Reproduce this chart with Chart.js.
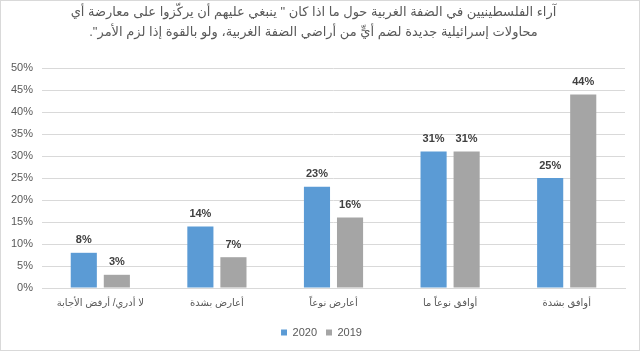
<!DOCTYPE html>
<html>
<head>
<meta charset="utf-8">
<script src="https://cdn.jsdelivr.net/npm/chart.js@4/dist/chart.umd.min.js"></script>
<style>
html,body{margin:0;padding:0;background:#fff;}
#wrap{position:relative;width:638px;height:349px;border:1px solid #d9d9d9;}
canvas{direction:rtl;}
</style>
</head>
<body>
<div id="wrap"><canvas id="c"></canvas></div>
<script>
const titleLines = [
  'آراء الفلسطينيين في الضفة الغربية حول ما اذا كان " ينبغي عليهم أن يركّزوا على معارضة أي',
  'محاولات إسرائيلية جديدة لضم أيٍّ من أراضي الضفة الغربية، ولو بالقوة إذا لزم الأمر".'
];
const categories = ['لا أدري/ أرفض الأجابة', 'أعارض بشدة', 'أعارض نوعاً', 'أوافق نوعاً ما', 'أوافق بشدة'];
const seriesNames = ['2020', '2019'];
const values2020 = [8, 14, 23, 31, 25];
const values2019 = [3, 7, 16, 31, 44];
const yTicks = [0, 5, 10, 15, 20, 25, 30, 35, 40, 45, 50];

const font = "'Liberation Sans', Arial, 'DejaVu Sans', sans-serif";

const labelPlugin = {
  id: 'barLabels',
  afterLayout(chart) {
    if (chart.legend) chart.legend.left += 16;
  },
  afterDatasetsDraw(chart) {
    const ctx = chart.ctx;
    ctx.save();
    ctx.font = 'bold 11px ' + font;
    ctx.fillStyle = '#404040';
    ctx.textAlign = 'center';
    ctx.textBaseline = 'bottom';
    ctx.direction = 'ltr';
    chart.data.datasets.forEach((ds, i) => {
      const meta = chart.getDatasetMeta(i);
      meta.data.forEach((bar, j) => {
        ctx.fillText(ds.data[j] + '%', bar.x, bar.y - 7);
      });
    });
    ctx.restore();
  }
};

new Chart(document.getElementById('c'), {
  type: 'bar',
  data: {
    labels: categories,
    datasets: [
      { label: seriesNames[0], data: values2020, backgroundColor: '#5b9bd5' },
      { label: seriesNames[1], data: values2019, backgroundColor: '#a5a5a5' }
    ]
  },
  options: {
    responsive: true,
    maintainAspectRatio: false,
    animation: false,
    categoryPercentage: 0.567,
    barPercentage: 0.79,
    layout: { padding: { left: 1, right: 14, top: 2, bottom: 2 } },
    plugins: {
      title: {
        display: true,
        text: titleLines,
        color: '#595959',
        font: { family: font, size: 13, weight: 'normal', lineHeight: 1.5 },
        padding: { top: 0, bottom: 26 }
      },
      legend: {
        position: 'bottom',
        labels: {
          color: '#595959',
          font: { family: font, size: 11 },
          boxWidth: 6,
          boxHeight: 6,
          padding: 9
        }
      },
      tooltip: { enabled: false }
    },
    scales: {
      x: {
        grid: { display: false, drawTicks: false },
        border: { display: true, color: '#d9d9d9' },
        ticks: { color: '#595959', font: { family: font, size: 10 }, maxRotation: 0, padding: 9 }
      },
      y: {
        min: 0,
        max: 50,
        afterBuildTicks(scale) { scale.ticks = yTicks.map(v => ({ value: v })); },
        grid: { color: '#d9d9d9', drawTicks: false },
        border: { display: false },
        ticks: {
          color: '#595959',
          font: { family: font, size: 11 },
          padding: 9,
          callback: v => v + '%'
        }
      }
    }
  },
  plugins: [labelPlugin]
});
</script>
</body>
</html>
